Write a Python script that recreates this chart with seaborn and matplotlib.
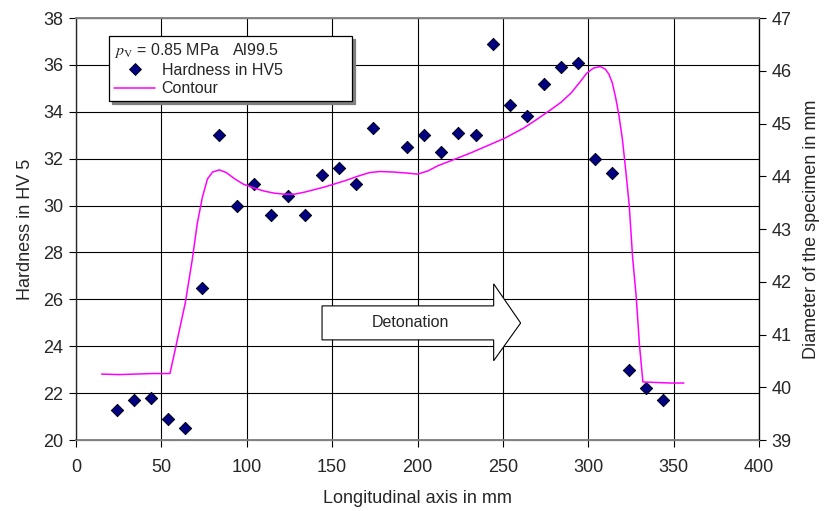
import matplotlib
matplotlib.use("Agg")
import matplotlib.pyplot as plt
from matplotlib.patches import Polygon
from matplotlib.lines import Line2D
import seaborn as sns

# Hardness measurements (left axis)
pos_mm = [24, 34, 44, 54, 64, 74, 84, 94, 104, 114, 124, 134, 144, 154, 164, 174,
          194, 204, 214, 224, 234, 244, 254, 264, 274, 284, 294, 304, 314, 324, 334, 344]
hardness_hv5 = [21.3, 21.7, 21.8, 20.9, 20.5, 26.5, 33.0, 30.0, 30.9, 29.6, 30.4, 29.6, 31.3, 31.6, 30.9, 33.3,
                32.5, 33.0, 32.3, 33.1, 33.0, 36.9, 34.3, 33.8, 35.2, 35.9, 36.1, 32.0, 31.4, 23.0, 22.2, 21.7]

# Specimen contour (right axis)
contour_x = [15, 25, 35, 45, 55, 57, 60, 64, 68, 71, 74, 77, 80, 84, 88, 93, 98, 104, 110, 116,
             122, 128, 134, 140, 146, 152, 158, 165, 172, 178, 186, 194, 200, 206, 212, 220, 231,
             241, 251, 262, 270, 278, 284, 290, 295, 299, 303, 307, 310, 312, 314, 316, 318, 320,
             322, 324, 326, 328, 330, 332, 340, 348, 356]
contour_d = [40.25, 40.24, 40.25, 40.26, 40.26, 40.55, 41.0, 41.6, 42.4, 43.1, 43.6, 43.95, 44.08, 44.12,
             44.07, 43.95, 43.85, 43.78, 43.72, 43.68, 43.66, 43.66, 43.7, 43.75, 43.8, 43.86, 43.92,
             44.0, 44.07, 44.09, 44.08, 44.06, 44.04, 44.1, 44.2, 44.3, 44.44, 44.58, 44.72, 44.91,
             45.08, 45.26, 45.4, 45.58, 45.78, 45.95, 46.05, 46.08, 46.03, 45.94, 45.78, 45.5, 45.15,
             44.7, 44.1, 43.45, 42.45, 41.75, 40.8, 40.1, 40.09, 40.08, 40.08]

x_ticks = list(range(0, 401, 50))
hv_ticks = list(range(20, 39, 2))
d_ticks = list(range(39, 48))

sns.set_style("white")
plt.rcParams['font.family'] = ['Liberation Sans', 'DejaVu Sans']
plt.rcParams['mathtext.fontset'] = 'stix'

fig = plt.figure(figsize=(8.24, 5.11), dpi=100)
ax = fig.add_axes([76 / 824, 1 - 440 / 511, 683 / 824, 422 / 511])
ax2 = ax.twinx()

sns.scatterplot(x=pos_mm, y=hardness_hv5, ax=ax, marker='D', s=40, color='#000080',
                edgecolor='black', linewidth=0.6, zorder=5, legend=False)
sns.lineplot(x=contour_x, y=contour_d, ax=ax2, color='#FF00FF', linewidth=1.1, legend=False)

ax.set_xlim(0, 400)
ax.set_ylim(20, 38)
ax2.set_ylim(39, 47)
ax.set_xticks(x_ticks)
ax.set_yticks(hv_ticks)
ax2.set_yticks(d_ticks)

ax.grid(True, color='black', linewidth=0.8)
ax2.grid(False)
for side in ['top', 'bottom']:
    ax.spines[side].set_color('#808080')
    ax.spines[side].set_linewidth(1.3)
ax.spines['left'].set_color('black')
ax2.spines['right'].set_color('black')
for s in ax2.spines.values():
    s.set_linewidth(0.9)
ax2.spines['top'].set_color('#808080')
ax2.spines['bottom'].set_color('#808080')

ax.tick_params(axis='y', direction='out', length=5, width=0.8, labelsize=13, pad=4,
               left=True, color='black')
ax.tick_params(axis='x', direction='out', length=5, width=0.8, labelsize=13, pad=9,
               bottom=True, color='black')
ax2.tick_params(axis='y', direction='out', length=5, width=0.8, labelsize=13, pad=4,
                right=True, color='black')

ax.set_xlabel('Longitudinal axis in mm', fontsize=13, labelpad=10)
ax.set_ylabel('Hardness in HV 5', fontsize=13, labelpad=7)
ax2.set_ylabel('Diameter of the specimen in mm', fontsize=13, labelpad=8)

# Detonation arrow
arrow = Polygon([(144.1, 24.27), (244.6, 24.27), (244.6, 23.38), (260.4, 24.99),
                 (244.6, 26.66), (244.6, 25.72), (144.1, 25.72)],
                closed=True, facecolor='white', edgecolor='black', linewidth=0.8, zorder=6)
ax.add_patch(arrow)
ax.text(196, 25.0, 'Detonation', fontsize=11.5, ha='center', va='center', zorder=7)

handles = [Line2D([], [], marker='D', linestyle='none', markerfacecolor='#000080',
                  markeredgecolor='black', markeredgewidth=0.6, markersize=6),
           Line2D([], [], color='#FF00FF', linewidth=1.1)]
leg = ax2.legend(handles, ['Hardness in HV5', 'Contour'],
                 title=r'$p_\mathrm{V}$ = 0.85 MPa   Al99.5', title_fontsize=11.5,
                 fontsize=11.5, loc='upper left', mode='expand',
                 bbox_to_anchor=(33 / 683, 0.6, 243 / 683, 404 / 422 - 0.6),
                 borderaxespad=0, frameon=True, fancybox=False, edgecolor='black',
                 shadow={'color': '#808080', 'alpha': 1}, framealpha=1,
                 handlelength=2.6, handletextpad=0.4, labelspacing=0.2, borderpad=0.3,
                 alignment='left')
leg.get_frame().set_linewidth(0.9)

fig.savefig('out.png', dpi=100)
